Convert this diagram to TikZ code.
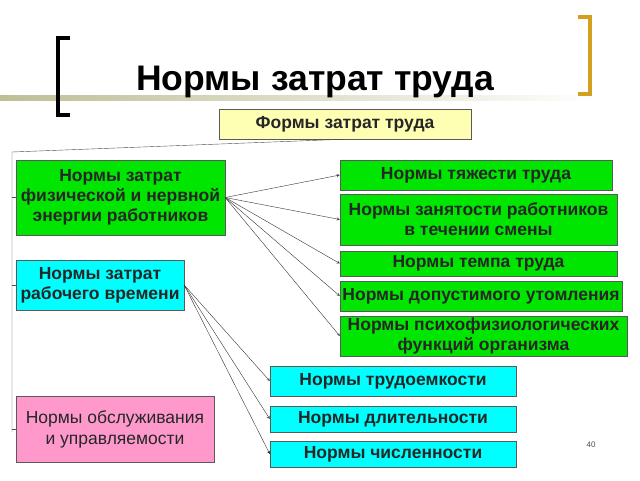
\documentclass[tikz,border=0pt]{standalone}
\usepackage{fontspec}
\setmainfont{Liberation Sans}
\definecolor{boxgreen}{RGB}{0,230,0}
\definecolor{boxcyan}{RGB}{0,255,255}
\definecolor{boxpink}{RGB}{255,153,204}
\definecolor{boxyellow}{RGB}{255,255,180}
\definecolor{gold}{RGB}{210,160,30}
\definecolor{olive}{RGB}{190,190,150}
\tikzset{
	box/.style={draw=gray!70!black,inner sep=0pt,align=center,font=\bfseries\fontsize{17.5}{20}\selectfont,text=black!85},
	link/.style={->,>=stealth,gray!40!black,thin}
}
\begin{document}
\begin{tikzpicture}[x=1pt,y=-1pt]
	\useasboundingbox (0,0) rectangle (640,480);
	\shade[left color=olive,right color=white] (0,95) rectangle (600,100);
	\draw[line width=4pt] (70,38) -- (58,38) -- (58,115) -- (70,115);
	\draw[gold,line width=3.5pt] (578,17) -- (590,17) -- (590,94) -- (578,94);
	\node (title)	at (315,82)	[font=\bfseries\fontsize{35.5}{38}\selectfont]{Нормы затрат труда};

	\node (forms)	at (345,124)	[box,fill=boxyellow,minimum width=252,minimum height=30]{Формы затрат труда};

	\node (phys)	at (120.5,197.5)	[box,fill=boxgreen,minimum width=209,minimum height=75]{Нормы затрат\\физической и нервной\\энергии работников};
	\node (time)	at (100,285)	[box,fill=boxcyan,minimum width=168,minimum height=50]{Нормы затрат\\рабочего времени};
	\node (serv)	at (115,429)	[box,fill=boxpink,minimum width=198,minimum height=66,font=\fontsize{17.5}{21}\selectfont]{Нормы обслуживания\\и управляемости};

	\node (heavy)	at (476,175)	[box,fill=boxgreen,minimum width=272,minimum height=30]{Нормы тяжести труда};
	\node (busy)	at (478.5,219.5)	[box,fill=boxgreen,minimum width=277,minimum height=51]{Нормы занятости работников\\в течении смены};
	\node (tempo)	at (478.5,263.5)	[box,fill=boxgreen,minimum width=277,minimum height=25]{Нормы темпа труда};
	\node (tired)	at (481,296)	[box,fill=boxgreen,minimum width=282,minimum height=30]{Нормы допустимого утомления};
	\node (psy)	at (483.5,336)	[box,fill=boxgreen,minimum width=287,minimum height=40]{Нормы психофизиологических\\функций организма};

	\node (labor)	at (393,381)	[box,fill=boxcyan,minimum width=246,minimum height=30]{Нормы трудоемкости};
	\node (dur)	at (393,419)	[box,fill=boxcyan,minimum width=246,minimum height=26]{Нормы длительности};
	\node (count)	at (393,454)	[box,fill=boxcyan,minimum width=246,minimum height=26]{Нормы численности};

	\node (page)	at (591,445)	[font=\fontsize{8}{9}\selectfont,text=gray!60!black]{40};

	% left bracket from the top box
	\coordinate (top) at (12,152);
	\draw[gray!60!black,thin] (forms.south) -- (top) -- (12,432);
	\draw[gray!60!black,thin] (12,197.5) -- (phys.west);
	\draw[gray!60!black,thin] (12,285) -- (time.west);
	\draw[gray!60!black,thin] (12,429) -- (serv.west);

	\foreach \t in {heavy,busy,tempo,tired,psy}
		\draw[link] (phys.east) -- (\t.west);
	\foreach \t in {labor,dur,count}
		\draw[link] (time.east) -- (\t.west);
\end{tikzpicture}
\end{document}
